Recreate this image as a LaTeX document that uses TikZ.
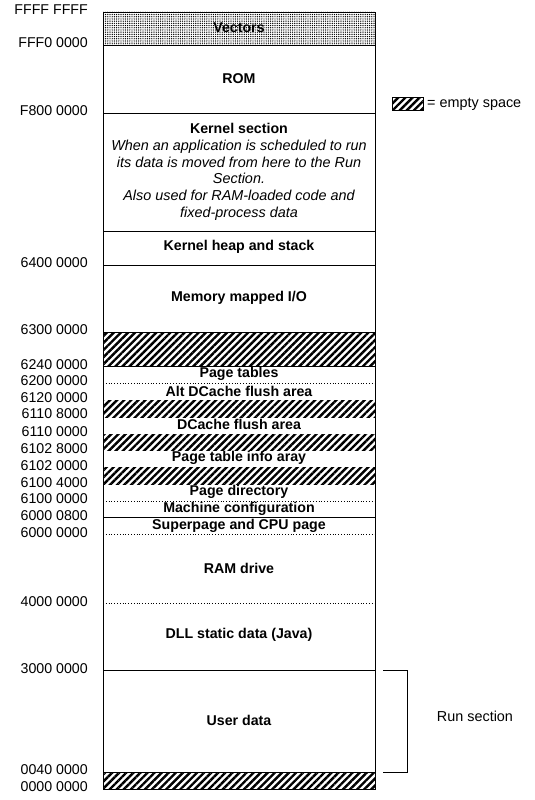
\documentclass[tikz,border=0pt]{standalone}
\usepackage{fontspec}
\setmainfont{Liberation Sans}
\usetikzlibrary{patterns.meta}

\tikzset{
  addr/.style={anchor=east, inner sep=0pt, font=\fontsize{14.2}{16}\selectfont},
  region/.style={inner sep=0pt, font=\fontsize{14.2}{16}\selectfont\bfseries},
  note/.style={inner sep=0pt, font=\fontsize{14.4}{16}\selectfont},
  empty/.style={pattern={Lines[angle=45,distance=5pt,line width=2.4pt]}},
  vecfill/.style={pattern={Dots[distance=2.2pt,radius=0.7pt]}},
  divider/.style={line width=0.8pt},
  dotdiv/.style={line width=0.8pt, dotted},
}

\begin{document}
\begin{tikzpicture}[x=1pt,y=-1pt]
        \useasboundingbox (0,0) rectangle (535,800);
        % filled areas
        \fill[vecfill] (103,12) rectangle (375,45);
        \foreach \t/\b in {332/366,400/417,434/450,467/484,772/789} {
            \fill[empty] (103,\t) rectangle (375,\b);
        }
        % dividers
        \foreach \y in {45,113,231,265,332,366,517,670,772} {
            \draw[divider] (103,\y) -- (375,\y);
        }
        \foreach \y in {383,501,534,603} {
            \draw[dotdiv] (103,\y) -- (375,\y);
        }
        \draw[divider] (103,12) rectangle (375,789);

        % region labels
        \node[region] (vectors) at (239,28) {Vectors};
        \node[region] (rom) at (239,79) {ROM};
        \node[region] (kernel) at (239,128) {Kernel section};
        \node[note, anchor=north, align=center, font=\fontsize{14.4}{16.6}\selectfont\itshape]
            (kernelnote) at (239,140) {When an application is scheduled to run\\its data is moved from here to the Run\\Section.\\Also used for RAM-loaded code and\\fixed-process data};
        \node[region] (heap) at (239,247) {Kernel heap and stack};
        \node[region] (mmio) at (239,298) {Memory mapped I/O};
        \node[region] (ptables) at (239,374) {Page tables};
        \node[region] (altdc) at (239,391) {Alt DCache flush area};
        \node[region] (dcache) at (239,424) {DCache flush area};
        \node[region] (ptinfo) at (239,458) {Page table info aray};
        \node[region] (pdir) at (239,492) {Page directory};
        \node[region] (mconf) at (239,509) {Machine configuration};
        \node[region] (super) at (239,526) {Superpage and CPU page};
        \node[region] (ramdrv) at (239,568) {RAM drive};
        \node[region] (dll) at (239,635) {DLL static data (Java)};
        \node[region] (user) at (239,720) {User data};

        % addresses
        \foreach \y/\a [count=\i] in {10/FFFF FFFF,43/FFF0 0000,111/F800 0000,263/6400 0000,
            330/6300 0000,365/6240 0000,381/6200 0000,398/6120 0000,414/6110 8000,
            432/6110 0000,449/6102 8000,466/6102 0000,483/6100 4000,499/6100 0000,
            516/6000 0800,533/6000 0000,602/4000 0000,669/3000 0000,770/0040 0000,787/0000 0000} {
            \node[addr] (addr\i) at (88,\y) {\a};
        }

        % legend
        \filldraw[empty, draw=black, line width=0.8pt] (392,97) rectangle (423,110);
        \node[note, anchor=west] (legend) at (427,104) {= empty space};

        % run section bracket
        \coordinate (runtop) at (383,670);
        \coordinate (runbot) at (383,772);
        \draw[divider] (runtop) -- ++(24,0) |- (runbot);
        \node[note] (run) at (475,716) {Run section};
    \end{tikzpicture}
\end{document}
